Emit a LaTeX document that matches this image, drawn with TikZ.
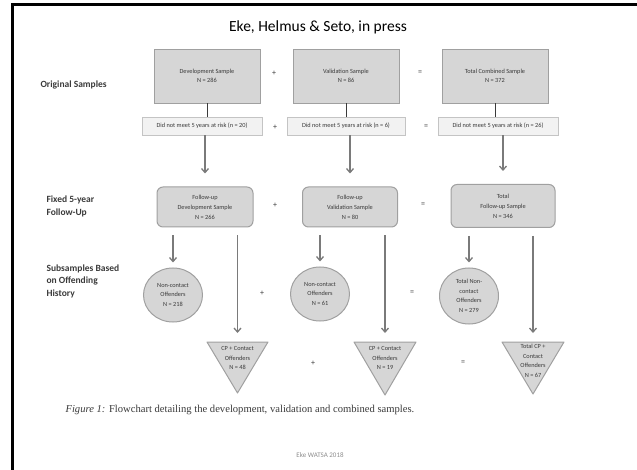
\documentclass[tikz,border=0pt]{standalone}
\usepackage{fontspec}
\setmainfont{Carlito}
\newfontfamily\capfont{Liberation Serif}
\usetikzlibrary{arrows.meta,shapes.geometric}
\definecolor{boxgray}{HTML}{D6D6D6}
\definecolor{boxline}{HTML}{A0A0A0}
\definecolor{riskfill}{HTML}{F2F2F2}
\definecolor{riskline}{HTML}{C4C4C4}
\definecolor{arrowgray}{HTML}{7A7A7A}
\definecolor{textgray}{HTML}{3A3A3A}
\definecolor{footgray}{HTML}{8C8C8C}

\begin{document}
\begin{tikzpicture}[x=1pt,y=-1pt,
  samplebox/.style={draw=boxline,fill=boxgray,line width=0.8pt,minimum width=106pt,
    minimum height=54pt,align=center,text=textgray,font=\fontsize{6.3}{8.5}\selectfont},
  riskbox/.style={draw=riskline,fill=riskfill,line width=0.8pt,minimum width=120pt,
    minimum height=18pt,inner sep=1pt,text=textgray,font=\fontsize{6.3}{7}\selectfont},
  followbox/.style={draw=boxline,fill=boxgray,rounded corners=6pt,line width=1pt,
    minimum height=40pt,align=center,text=textgray,font=\fontsize{6.3}{10}\selectfont},
  offcircle/.style={ellipse,draw=boxline,fill=boxgray,line width=1pt,minimum width=59pt,
    minimum height=54pt,inner sep=0pt,align=center,text=textgray,font=\fontsize{6.3}{9.5}\selectfont},
  tri/.style={draw=boxline,fill=boxgray,line width=1pt,line join=round},
  tritext/.style={align=center,inner sep=0pt,text=textgray,font=\fontsize{6.3}{9.5}\selectfont},
  arr/.style={draw=arrowgray,line width=1.3pt,-{Straight Barb[length=4pt,width=7pt]}},
  thinline/.style={draw=textgray,line width=0.6pt},
  op/.style={text=textgray,font=\fontsize{8}{8}\selectfont},
  rowlabel/.style={anchor=west,align=left,text=textgray,font=\fontsize{9.5}{12.5}\selectfont\bfseries}]
\useasboundingbox (0,0) rectangle (637,470);
\draw[line width=3pt] (12.5,470) -- (12.5,4.5) -- (637,4.5);

% title and row labels
\node[font=\fontsize{15.5}{15.5}\selectfont] (title) at (318,27) {Eke, Helmus \& Seto, in press};
\node[rowlabel] (lorig) at (37,85) {Original Samples};
\node[rowlabel] (lfix) at (43,206.5) {Fixed 5-year\\Follow-Up};
\node[rowlabel] (lsub) at (43,281) {Subsamples Based\\on Offending\\History};

% original samples
\node[samplebox] (dev) at (207,76) {Development Sample\\N = 286};
\node[samplebox] (val) at (346,76) {Validation Sample\\N = 86};
\node[samplebox] (tot) at (495,76) {Total Combined Sample\\N = 372};
\node[op] (p1) at (274,73) {+};
\node[op] (e1) at (420,73) {=};

% not at risk
\node[riskbox] (sb1) at (202,126) {Did not meet 5 years at risk (n = 20)};
\node[riskbox,minimum width=118pt] (sb2) at (346,126) {Did not meet 5 years at risk (n = 6)};
\node[riskbox] (sb3) at (498,126) {Did not meet 5 years at risk (n = 26)};
\node[op] (p2) at (275,127) {+};
\node[op] (e2) at (426,127) {=};
\draw[thinline] (dev.south) -- (dev.south |- sb1.north);
\draw[thinline] (val.south) -- (val.south |- sb2.north);
\draw[thinline] (tot.south) -- (tot.south |- sb3.north);

% fixed follow-up
\node[followbox,minimum width=96pt] (fb1) at (205,207) {Follow-up\\Development Sample\\N = 266};
\node[followbox,minimum width=95pt] (fb2) at (350,207) {Follow-up\\Validation Sample\\N = 80};
\node[followbox,minimum width=104pt,minimum height=43pt] (fb3) at (503,206) {Total\\Follow-up Sample\\N = 346};
\node[op] (p3) at (275,205) {+};
\node[op] (e3) at (423,205) {=};
\draw[arr,shorten >=13pt] (fb1 |- sb1.south) -- (fb1.north);
\draw[arr,shorten >=13pt] (fb2 |- sb2.south) -- (fb2.north);
\draw[arr,shorten >=13pt] (fb3 |- sb3.south) -- (fb3.north);

% non-contact offenders
\node[offcircle] (nc1) at (173,295) {Non-contact\\Offenders\\N = 218};
\node[offcircle] (nc2) at (320,294) {Non-contact\\Offenders\\N = 61};
\node[offcircle,minimum height=56pt] (nc3) at (469,296) {Total Non-\\contact\\Offenders\\N = 279};
\node[op] (p4) at (262,293) {+};
\node[op] (e4) at (412,293) {=};

% CP + contact offenders
\draw[tri] (207,342) -- (268,342) -- (237.5,393) -- cycle;
\draw[tri] (354,342) -- (416,342) -- (385,395) -- cycle;
\draw[tri] (502,342) -- (564,342) -- (533,394) -- cycle;
\coordinate (t1) at (237.5,342);
\coordinate (t2) at (385,342);
\coordinate (t3) at (533,342);
\node[tritext] (cp1) at (237.5,358) {CP + Contact\\Offenders\\N = 48};
\node[tritext] (cp2) at (385,358) {CP + Contact\\Offenders\\N = 19};
\node[tritext] (cp3) at (533,361) {Total CP +\\Contact\\Offenders\\N = 67};
\node[op] (p5) at (313,363) {+};
\node[op] (e5) at (463,363) {=};

% arrows to subsamples
\draw[arr,shorten <=8pt,shorten >=5pt] (nc1 |- fb1.south) -- (nc1.north);
\draw[arr,shorten <=8pt,shorten >=5pt] (nc2 |- fb2.south) -- (nc2.north);
\draw[arr,shorten <=8pt,shorten >=5pt] (nc3 |- fb3.south) -- (nc3.north);
\draw[arr,shorten <=8pt,shorten >=9pt] (t1 |- fb1.south) -- (t1);
\draw[arr,shorten <=8pt,shorten >=9pt] (t2 |- fb2.south) -- (t2);
\draw[arr,shorten <=8pt,shorten >=9pt] (t3 |- fb3.south) -- (t3);

% caption and footer
\node[anchor=west,text=textgray,font=\capfont\fontsize{10.6}{12}\selectfont] (caption) at (62,410)
  {\textit{Figure 1:} Flowchart detailing the development, validation and combined samples.};
\node[text=footgray,font=\fontsize{7}{8}\selectfont] (footer) at (320,455) {Eke WATSA 2018};
\end{tikzpicture}
\end{document}
